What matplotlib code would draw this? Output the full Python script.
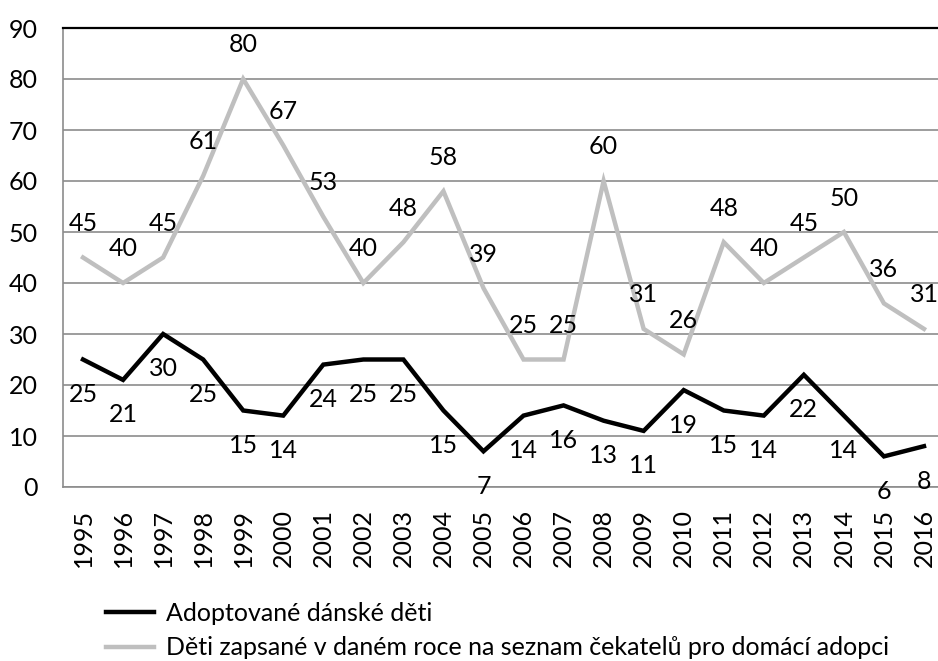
import matplotlib
matplotlib.use("Agg")
import matplotlib.pyplot as plt

plt.rcParams['font.family'] = ['Lato', 'DejaVu Sans']

years = [str(y) for y in range(1995, 2017)]
adopted = [25, 21, 30, 25, 15, 14, 24, 25, 25, 15, 7, 14, 16, 13, 11, 19, 15, 14, 22, 14, 6, 8]
waiting = [45, 40, 45, 61, 80, 67, 53, 40, 48, 58, 39, 25, 25, 60, 31, 26, 48, 40, 45, 50, 36, 31]
yticks = list(range(0, 100, 10))
label_adopted = "Adoptované dánské děti"
label_waiting = "Děti zapsané v daném roce na seznam čekatelů pro domácí adopci"

W, H = 938, 661
fig = plt.figure(figsize=(W / 100, H / 100), dpi=100)
ax = fig.add_axes([63 / W, 1 - 487 / H, 881 / W, 459 / H])

x = list(range(len(years)))
gray = '#BFBFBF'
l1, = ax.plot(x, adopted, color='black', lw=3.2, solid_joinstyle='miter', zorder=4, label=label_adopted)
l2, = ax.plot(x, waiting, color=gray, lw=3.2, solid_joinstyle='miter', zorder=3, label=label_waiting)

fs = 18
for xi, v in zip(x, waiting):
    ax.annotate(str(v), (xi, v), xytext=(0, 34), textcoords='offset pixels',
                ha='center', va='center', fontsize=fs, zorder=6, annotation_clip=False)
for xi, v in zip(x, adopted):
    ax.annotate(str(v), (xi, v), xytext=(0, -35), textcoords='offset pixels',
                ha='center', va='center', fontsize=fs, zorder=6, annotation_clip=False)

ax.set_xlim(-0.5, len(years) - 0.5)
ax.set_ylim(0, 90)
ax.set_yticks(yticks)
ax.set_yticklabels([str(t) for t in yticks], fontsize=fs)
ax.set_xticks(x)
ax.set_xticklabels(years, rotation=90, fontsize=fs)
ax.tick_params(axis='y', length=0, pad=18)
ax.tick_params(axis='x', length=0, pad=16)
ax.grid(axis='y', color='#8C8C8C', lw=1.2, zorder=1)
ax.set_axisbelow(True)
ax.spines['right'].set_visible(False)
ax.spines['left'].set_color('#8C8C8C')
ax.spines['left'].set_linewidth(1.2)
ax.spines['bottom'].set_color('#8C8C8C')
ax.spines['bottom'].set_linewidth(1.2)
ax.spines['top'].set_color('black')
ax.spines['top'].set_linewidth(1.6)

fig.legend(handles=[l1, l2], loc='upper left', bbox_to_anchor=(96 / W, 1 - 592 / H),
           frameon=False, fontsize=fs, handlelength=1.9, handletextpad=0.5,
           labelspacing=0.45, borderaxespad=0)

fig.savefig('out.png', dpi=100)
